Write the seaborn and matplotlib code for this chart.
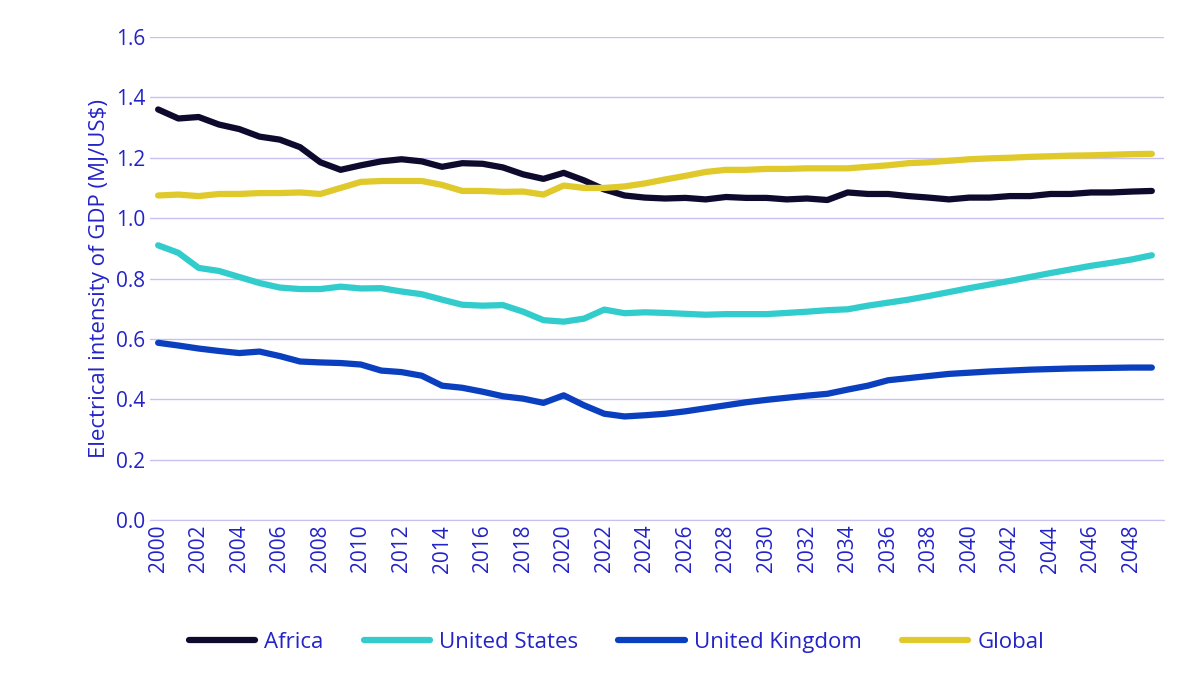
import matplotlib
matplotlib.use("Agg")
import matplotlib.pyplot as plt
import seaborn as sns
import pandas as pd

years = list(range(2000, 2050))
africa = [1.36, 1.33, 1.335, 1.31, 1.295, 1.27, 1.26, 1.235, 1.185, 1.16,
          1.175, 1.188, 1.195, 1.188, 1.17, 1.182, 1.18, 1.168, 1.145, 1.13,
          1.15, 1.125, 1.095, 1.075, 1.068, 1.065, 1.067, 1.062, 1.07, 1.067,
          1.067, 1.062, 1.065, 1.06, 1.085, 1.08, 1.08, 1.073, 1.068, 1.062,
          1.068, 1.068, 1.073, 1.073, 1.08, 1.08, 1.085, 1.085, 1.088, 1.09]
united_states = [0.91, 0.885, 0.835, 0.825, 0.805, 0.785, 0.77, 0.765, 0.765, 0.773,
                 0.767, 0.768, 0.757, 0.748, 0.73, 0.713, 0.71, 0.712, 0.69, 0.662,
                 0.657, 0.667, 0.697, 0.685, 0.688, 0.686, 0.683, 0.68, 0.682, 0.682,
                 0.682, 0.686, 0.69, 0.695, 0.698, 0.71, 0.72, 0.73, 0.742, 0.755,
                 0.768, 0.78, 0.792, 0.805, 0.818, 0.83, 0.842, 0.852, 0.863, 0.877]
united_kingdom = [0.587, 0.578, 0.568, 0.56, 0.553, 0.558, 0.543, 0.525, 0.522, 0.52,
                  0.515, 0.495, 0.49, 0.478, 0.445, 0.438, 0.425, 0.41, 0.402, 0.388,
                  0.413, 0.38, 0.352, 0.343, 0.347, 0.352, 0.36, 0.37, 0.38, 0.39,
                  0.398, 0.405, 0.412, 0.418, 0.432, 0.445, 0.463, 0.47, 0.477, 0.484,
                  0.488, 0.492, 0.495, 0.498, 0.5, 0.502, 0.503, 0.504, 0.505, 0.505]
global_ = [1.075, 1.078, 1.073, 1.08, 1.08, 1.083, 1.083, 1.085, 1.08, 1.1,
           1.12, 1.123, 1.123, 1.123, 1.11, 1.09, 1.09, 1.087, 1.088, 1.078,
           1.108, 1.1, 1.1, 1.105, 1.115, 1.128, 1.14, 1.153, 1.16, 1.16,
           1.163, 1.163, 1.165, 1.165, 1.165, 1.17, 1.175, 1.182, 1.185, 1.19,
           1.195, 1.198, 1.2, 1.203, 1.205, 1.207, 1.208, 1.21, 1.212, 1.213]

series = {"Africa": africa, "United States": united_states,
          "United Kingdom": united_kingdom, "Global": global_}
colors = {"Africa": "#0d0a2e", "United States": "#33cccc",
          "United Kingdom": "#0a3fbf", "Global": "#e0c92b"}

df = pd.DataFrame([(y, name, v) for name, vals in series.items()
                   for y, v in zip(years, vals)], columns=["year", "region", "value"])

sns.set_style("white")
plt.rcParams['font.family'] = ['Open Sans', 'DejaVu Sans']
text_blue = "#2323c8"

fig, ax = plt.subplots(figsize=(12, 6.98), dpi=100)
sns.lineplot(data=df, x="year", y="value", hue="region", palette=colors,
             linewidth=4.5, ax=ax)

ax.set_ylim(0, 1.6)
ax.set_yticks([i * 0.2 for i in range(9)])
ax.set_yticklabels([f"{i * 0.2:.1f}" for i in range(9)], fontsize=15, color=text_blue)
ax.set_xlim(1999.6, 2049.6)
ax.set_xticks(range(2000, 2050, 2))
ax.set_xticklabels([str(y) for y in range(2000, 2050, 2)], rotation=90,
                   fontsize=15, color=text_blue)
ax.grid(axis="y", color="#c8c0f0", linewidth=1)
ax.set_axisbelow(True)
for s in ["top", "right", "left"]:
    ax.spines[s].set_visible(False)
ax.spines["bottom"].set_color("#c8c0f0")
ax.tick_params(length=0)
ax.set_xlabel("")
ax.set_ylabel("Electrical intensity of GDP (MJ/US$)", fontsize=16, color=text_blue)

leg = ax.legend(loc="upper center", bbox_to_anchor=(0.46, -0.19), ncol=4,
                frameon=False, fontsize=16, handlelength=3, handletextpad=0.4,
                columnspacing=1.8)
for t in leg.get_texts():
    t.set_color(text_blue)
for l in leg.get_lines():
    l.set_linewidth(4.5)

plt.subplots_adjust(left=0.125, right=0.97, top=0.947, bottom=0.255)
plt.savefig("out.png")
